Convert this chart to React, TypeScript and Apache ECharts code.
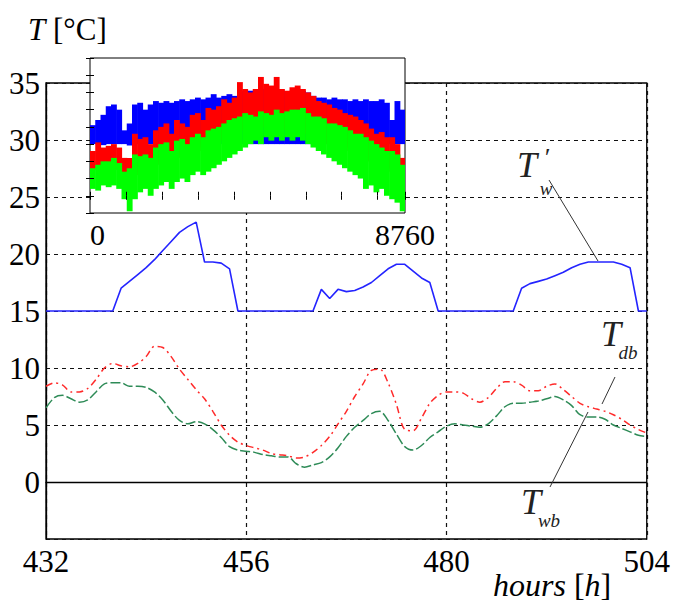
import React, { useEffect, useRef } from 'react';
import * as echarts from 'echarts';

// ---------- main plot data (hourly, 432 .. 504 h) ----------
const START_HOUR = 432;
const X_TICKS = [432, 456, 480, 504];
const Y_TICKS = [0, 5, 10, 15, 20, 25, 30, 35];

const TW_PRIME = [
  15, 15, 15, 15, 15, 15, 15, 15, 15,
  17.0, 17.6, 18.2, 18.8, 19.5, 20.3, 21.1, 21.9, 22.4, 22.8,
  19.3, 19.3, 19.2, 18.7, 15,
  15, 15, 15, 15, 15, 15, 15, 15, 15,
  16.9, 16.1, 16.9, 16.7, 16.8, 17.1, 17.5, 18.1, 18.7, 19.1, 19.1, 18.5, 17.9, 17.5, 15,
  15, 15, 15, 15, 15, 15, 15, 15, 15,
  17.0, 17.4, 17.6, 17.8, 18.1, 18.4, 18.8, 19.1, 19.3, 19.3, 19.3, 19.3, 19.1, 18.8, 15, 15,
];

const T_DB = [
  8.4, 8.7, 8.5, 7.9, 7.9, 8.2, 9.0, 10.0, 10.4, 10.2,
  10.1, 10.4, 11.0, 11.9, 11.8, 11.0, 9.9, 9.0, 8.1, 7.3,
  6.2, 5.0, 4.1, 3.5, 3.2, 3.0, 2.8, 2.5, 2.4, 2.3,
  2.1, 2.2, 2.6, 3.2, 4.0, 5.1, 6.2, 7.5, 8.6, 9.8,
  9.9, 8.7, 6.8, 4.6, 4.5, 5.6, 6.9, 7.6, 7.9, 7.9,
  7.8, 7.3, 7.0, 7.4, 8.2, 8.8, 8.8, 8.5, 8.0, 8.0,
  8.4, 8.6, 8.1, 7.5, 6.9, 6.6, 6.4, 6.2, 5.9, 5.5,
  5.0, 4.6, 4.3,
];

const T_WB = [
  6.5, 7.4, 7.6, 7.3, 7.0, 7.2, 7.9, 8.6, 8.7, 8.7,
  8.4, 8.4, 8.3, 7.9, 7.2, 6.2, 5.4, 5.1, 5.3, 5.1,
  4.6, 3.9, 3.1, 2.8, 2.7, 2.6, 2.4, 2.3, 2.2, 2.2,
  1.6, 1.3, 1.5, 1.7, 2.2, 3.0, 4.0, 4.8, 5.4, 6.0,
  6.2, 5.4, 4.2, 3.1, 2.8, 3.2, 3.9, 4.4, 4.9, 5.1,
  5.0, 4.9, 4.8, 5.1, 5.8, 6.6, 6.9, 6.9, 7.0, 7.1,
  7.3, 7.5, 7.2, 6.7, 5.9, 5.7, 5.7, 5.5, 5.0, 4.7,
  4.4, 4.1, 4.0,
];

// ---------- inset data (whole year, 60 bins of 146 h: min / max per bin) ----------
const INSET_BIN_HOURS = 146;
const INSET_X_LABELS = [0, 8760];
const INSET_TW_LOW = [
  15, 15, 14.7, 15, 15, 15, 15, 14.6, 15, 15,
  15, 15, 15, 14.7, 15, 15, 15, 15, 15, 15,
  15, 15, 15, 15, 15, 15, 15, 15, 15, 15,
  15, 15, 15, 15, 15, 15, 15, 15, 15, 15,
  15, 15, 15, 15, 15, 15, 15, 15, 15, 15,
  15, 15, 15, 14.7, 15, 15, 15, 15, 15, 15,
];
const INSET_TW_HIGH = [
  20.5, 22, 23.5, 26, 26.5, 25, 19, 21, 26.5, 27,
  25, 26.5, 27.5, 27, 27.5, 27, 27.5, 28, 27.5, 28,
  28.5, 28, 28.5, 29.5, 28.5, 29, 29.5, 29, 30.5, 30,
  30.5, 30, 31, 31, 30.5, 31, 30.5, 30, 30.5, 31,
  30.5, 30, 29, 28.5, 28.5, 28, 28.5, 28, 28, 27.5,
  28, 27.5, 28, 27.5, 27.5, 28, 27, 22, 27.5, 25,
];
const INSET_TDB_LOW = [
  7.5, 8, 9, 8.5, 9, 7.5, 4, 2.5, 6, 7,
  8, 7, 9, 10, 11, 9, 11, 12, 11, 13,
  14, 13, 14, 15, 16, 17, 17, 18, 19, 19,
  18, 19, 20, 20, 19, 21, 19, 20, 19, 19,
  18, 18, 17, 17, 16, 15, 15, 14, 14, 13,
  12, 11, 10, 10, 9, 9, 8, 7, 6, 4,
];
const INSET_TDB_HIGH = [
  13, 15.5, 14, 14.5, 15, 14, 11, 11, 18, 16.5,
  17, 15, 19, 20, 21, 18, 22, 21, 20, 23.5,
  24, 22, 25.5, 25, 26, 28, 27, 28.5, 33, 31,
  30, 31, 34.5, 32.5, 32, 34.5, 31, 30.5, 31.5, 32,
  31, 30, 29, 27.5, 27, 26.5, 25.5, 25, 24, 23.5,
  23, 22, 21, 19.5, 18, 18.5, 17, 17, 15, 11,
];
const INSET_TWB_LOW = [
  2, 1.5, 3, 2.5, 3, 2, -1, -4.5, -1, 1,
  2, 0, 2, 3, 4, 2, 4, 5, 4, 6,
  7, 6, 7, 8, 9, 10, 11, 12, 13, 14,
  15, 16, 15, 17, 16, 17, 16, 17, 16, 17,
  16, 15, 14, 13, 12, 11, 10, 9, 8, 7,
  6, 5, 2, 3, 1, 2, 0, -1, -2, -4.5,
];
const INSET_TWB_HIGH = [
  8, 9, 10, 10, 11, 9.5, 7, 8, 12, 11.5,
  12, 11, 14, 15, 15.5, 13, 16, 16.5, 15, 17,
  18, 17, 19, 19.5, 20, 21, 22, 22.5, 23, 24,
  23.5, 23, 24.5, 24, 23.5, 25, 24, 24.5, 25, 25,
  25.5, 24, 23, 23, 22.5, 21, 21, 20.5, 20, 19,
  18, 18, 17, 16, 15, 14, 13, 13, 12, 9,
];

const SERIF = 'Liberation Serif, serif';

function pairs(values: number[]) {
  return values.map((v, i) => [START_HOUR + i, v]);
}

function band(name: string, lows: number[], highs: number[], color: string) {
  return {
    type: 'custom',
    name,
    xAxisIndex: 1,
    yAxisIndex: 1,
    z: 6,
    clip: true,
    encode: { x: 0, y: [1, 2] },
    data: lows.map((lo, i) => [i * INSET_BIN_HOURS, lo, highs[i]]),
    renderItem: (params: any, api: any) => {
      const x0 = api.value(0);
      const p0 = api.coord([x0, api.value(2)]);
      const p1 = api.coord([x0 + INSET_BIN_HOURS, api.value(1)]);
      return {
        type: 'rect',
        shape: { x: p0[0], y: p0[1], width: p1[0] - p0[0] + 0.6, height: p1[1] - p0[1] },
        style: { fill: color },
      };
    },
  };
}

const insetTick = { show: true, inside: true, length: 4, lineStyle: { color: '#000', width: 1 } };

function label(text: string, x: number, y: number, size: number, lh: number) {
  return {
    type: 'text', z: 10,
    style: {
      text, x, y, textAlign: 'center', textVerticalAlign: 'middle',
      fontFamily: SERIF, fontStyle: 'italic', fontSize: size, lineHeight: lh, fill: '#222',
    },
  };
}

export default function App() {
  const ref = useRef<HTMLDivElement>(null);
  useEffect(() => {
    if (!ref.current) return;
    const chart = echarts.init(ref.current, undefined, { renderer: 'svg' });
    const labelStyle = { color: '#000', fontFamily: SERIF, fontSize: 31 };
    const option: any = {
      animation: false,
      textStyle: { fontFamily: SERIF },
      grid: [
        { left: 46, right: 22, top: 83, bottom: 65, show: true, borderColor: '#000', borderWidth: 1.3, z: 0 },
        { left: 90, top: 58, width: 315, height: 155, show: true, backgroundColor: '#fff', borderColor: '#000', borderWidth: 1, z: 5 },
      ],
      xAxis: [
        {
          gridIndex: 0, type: 'value', min: X_TICKS[0], max: X_TICKS[X_TICKS.length - 1], interval: 24,
          axisLine: { show: true, lineStyle: { color: '#000', width: 1.3 } },
          axisTick: { show: false },
          axisLabel: { ...labelStyle, margin: 7 },
          splitLine: { show: true, lineStyle: { type: [4, 4], color: '#111', width: 1.2 } },
        },
        {
          gridIndex: 1, type: 'value', min: 0, max: 8760, interval: 1000, position: 'bottom', z: 6,
          axisLine: { show: false }, axisTick: insetTick, axisLabel: { show: false }, splitLine: { show: false },
        },
        {
          gridIndex: 1, type: 'value', min: 0, max: 8760, interval: 1000, position: 'top', z: 6,
          axisLine: { show: false }, axisTick: insetTick, axisLabel: { show: false }, splitLine: { show: false },
        },
        {
          gridIndex: 1, type: 'value', min: INSET_X_LABELS[0], max: INSET_X_LABELS[1], interval: INSET_X_LABELS[1], position: 'bottom', z: 6,
          axisLine: { show: false }, axisTick: { show: false }, splitLine: { show: false },
          axisLabel: { ...labelStyle, fontSize: 30, margin: 6, alignMinLabel: 'left', formatter: (v: number) => String(v) },
        },
      ],
      yAxis: [
        {
          gridIndex: 0, type: 'value', min: -5, max: Y_TICKS[Y_TICKS.length - 1], interval: 5,
          axisLine: { show: true, lineStyle: { color: '#000', width: 1.3 } },
          axisTick: { show: false },
          axisLabel: { ...labelStyle, margin: 6, formatter: (v: number) => (Y_TICKS.includes(v) ? String(v) : '') },
          splitLine: { show: true, lineStyle: { type: [4, 4], color: '#111', width: 1.2 } },
        },
        {
          gridIndex: 1, type: 'value', min: -5, max: 40, interval: 5, position: 'left', z: 6,
          axisLine: { show: false }, axisTick: insetTick, axisLabel: { show: false }, splitLine: { show: false },
        },
        {
          gridIndex: 1, type: 'value', min: -5, max: 40, interval: 5, position: 'right', z: 6,
          axisLine: { show: false }, axisTick: insetTick, axisLabel: { show: false }, splitLine: { show: false },
        },
      ],
      series: [
        {
          type: 'line', name: "T'w", xAxisIndex: 0, yAxisIndex: 0, data: pairs(TW_PRIME), showSymbol: false,
          lineStyle: { color: '#2424ff', width: 1.6 }, z: 3,
        },
        {
          type: 'line', name: 'Tdb', xAxisIndex: 0, yAxisIndex: 0, data: pairs(T_DB), showSymbol: false, smooth: 0.3,
          lineStyle: { color: '#ff2a2a', width: 1.5, type: [7, 4, 2, 4] }, z: 3,
        },
        {
          type: 'line', name: 'Twb', xAxisIndex: 0, yAxisIndex: 0, data: pairs(T_WB), showSymbol: false, smooth: 0.3,
          lineStyle: { color: '#2e8b57', width: 1.5, type: [10, 3] }, z: 3,
        },
        band('Tw year', INSET_TW_LOW, INSET_TW_HIGH, '#0000ff'),
        band('Tdb year', INSET_TDB_LOW, INSET_TDB_HIGH, '#ff0000'),
        band('Twb year', INSET_TWB_LOW, INSET_TWB_HIGH, '#00ff00'),
      ],
      graphic: [
        {
          type: 'text', left: 28, top: 14, z: 10,
          style: {
            text: '{i|T} [°C]', fontFamily: SERIF, fontSize: 31, fill: '#000',
            rich: { i: { fontStyle: 'italic', fontFamily: SERIF, fontSize: 31 } },
          },
        },
        {
          type: 'text', left: 493, top: 569, z: 10,
          style: {
            text: '{i|hours} [{i|h}]', fontFamily: SERIF, fontSize: 32, fill: '#000',
            rich: { i: { fontStyle: 'italic', fontFamily: SERIF, fontSize: 32 } },
          },
        },
        // T'w label
        label('T', 527, 165, 36, 22),
        label('′', 546, 157, 26, 10),
        label('w', 546, 188, 19, 10),
        { type: 'line', z: 10, shape: { x1: 549, y1: 180, x2: 598, y2: 261 }, style: { stroke: '#333', lineWidth: 1 } },
        // Tdb label
        label('T', 611, 334, 36, 24),
        label('db', 628, 352, 19, 11),
        { type: 'line', z: 10, shape: { x1: 615, y1: 377, x2: 602, y2: 404 }, style: { stroke: '#333', lineWidth: 1 } },
        // Twb label
        label('T', 531, 502, 36, 24),
        label('wb', 549, 520, 19, 11),
        { type: 'line', z: 10, shape: { x1: 550, y1: 487, x2: 588, y2: 412 }, style: { stroke: '#333', lineWidth: 1 } },
      ],
    };
    chart.setOption(option);
    return () => chart.dispose();
  }, []);
  return <div ref={ref} style={{ position: 'fixed', left: 0, top: 0, width: 673, height: 604, background: '#fff' }} />;
}
